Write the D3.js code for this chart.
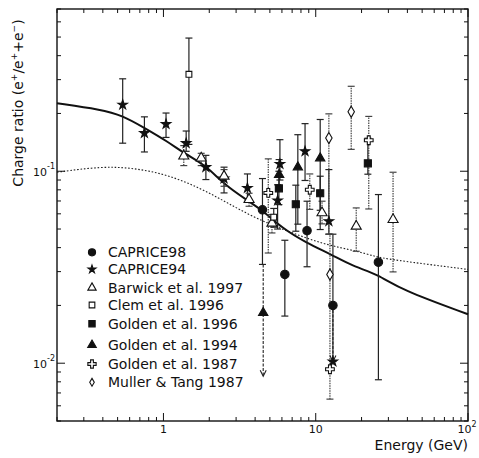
<!DOCTYPE html>
<html>
<head>
<meta charset="utf-8">
<script src="https://cdn.jsdelivr.net/npm/d3@7"></script>
<style>
  body { margin: 0; background: #fff; }
  text { font-family: "DejaVu Sans", sans-serif; fill: #111; }
</style>
</head>
<body>
<div id="chart"></div>
<script>
// Points are [energy GeV, ratio, error low, error high]

const caprice98 = [
  [4.47, 0.063, 0.0327, 0.0916],
  [6.27, 0.029, 0.0176, 0.0437],
  [8.77, 0.049, 0.0318, 0.0698],
  [12.97, 0.020, 0.0102, 0.047],
  [25.8, 0.0336, 0.0082, 0.0756],
]

const caprice94 = [
  [0.54, 0.222, 0.140, 0.303],
  [0.75, 0.158, 0.126, 0.192],
  [1.04, 0.176, 0.150, 0.201],
  [1.41, 0.140, 0.127, 0.162],
  [1.90, 0.105, 0.0905, 0.121],
  [2.50, 0.0916, 0.0771, 0.105],
  [3.56, 0.0818, 0.0698, 0.0968],
  [5.82, 0.109, 0.090, 0.146],
  [5.62, 0.0704, 0.050, 0.085],
  [8.51, 0.127, 0.0895, 0.177],
  [12.2, 0.0549, 0.047, 0.102],
  [12.97, 0.0102, null, null],
]

const barwick97 = [
  [1.36, 0.120, 0.107, 0.136],
  [1.77, 0.117, 0.107, 0.124],
  [2.50, 0.0942, 0.0835, 0.102],
  [3.65, 0.0712, 0.0657, 0.0768],
  [5.16, 0.0536, 0.0477, 0.0595],
  [11.0, 0.0607, 0.0532, 0.0698],
  [18.45, 0.0517, 0.0383, 0.0644],
  [32.2, 0.056, 0.0299, 0.0988],
]

const clem96 = [
  [1.47, 0.320, 0.138, 0.494],
  [5.3, 0.0576, 0.0511, 0.064],
]

const golden96 = [
  [5.73, 0.0815, 0.067, 0.100],
  [7.40, 0.0673, 0.0487, 0.0846],
  [10.7, 0.0768, 0.0626, 0.0942],
  [22.0, 0.110, 0.0965, 0.1486],
]

const golden94 = [
  [4.52, 0.0183, 0.0327, 0.0327],
  [5.75, 0.096, 0.080, 0.115],
  [7.63, 0.105, 0.053, 0.155],
  [10.7, 0.117, 0.0497, 0.186],
]

const golden87 = [
  [4.88, 0.0771, 0.0375, 0.116],
  [9.14, 0.0801, 0.0633, 0.0968],
  [22.3, 0.145, 0.0636, 0.193],
  [12.4, 0.0093, null, null],
]

const muller87 = [
  [12.2, 0.149, 0.047, 0.199],
  [17.1, 0.204, 0.130, 0.277],
  [12.4, 0.029, 0.0065, 0.047],
]

// Downward arrows: [energy, from, to]
const limits = [
  [4.52, 0.0327, 0.00855],
  [12.97, 0.020, 0.0102],
]

const modelSolid = [
  [0.2, 0.226], [0.388, 0.2095], [0.54, 0.195], [0.751, 0.168], [1.057, 0.1433],
  [1.41, 0.122], [1.90, 0.1074], [2.64, 0.0818], [4.42, 0.0635], [5.97, 0.0507],
  [8.69, 0.0424], [12.7, 0.0368], [17.5, 0.032], [25.8, 0.029], [36, 0.0242], [100, 0.018],
]

const modelDotted = [
  [0.2, 0.0988], [0.388, 0.106], [0.64, 0.104], [1.057, 0.0961], [1.745, 0.0818],
  [2.66, 0.068], [4.20, 0.056], [6.94, 0.0478], [11.45, 0.0415], [18.9, 0.0383],
  [24.3, 0.036], [30.5, 0.0347], [100, 0.0308],
]

const xLabels = [[1, '1', ''], [10, '10', ''], [100, '10', '2']]
const yLabels = [[0.1, '10', '-1'], [0.01, '10', '-2']]

const width = 479
const height = 458
const plotLeft = 57, plotRight = 468, plotTop = 9, plotBottom = 421

const x = d3.scaleLog().domain([0.2, 100]).range([plotLeft, plotRight])
const y = d3.scaleLog().domain([0.005, 0.7]).range([plotBottom, plotTop])

const svg = d3.select('#chart').append('svg')
  .attr('width', width)
  .attr('height', height)

// Series styles

const series = [
  { name: 'CAPRICE98', data: caprice98, type: d3.symbolCircle, size: 56, fill: '#111', legendSize: 40 },
  { name: 'CAPRICE94', data: caprice94, type: d3.symbolStar, size: 28, fill: '#111', legendSize: 20 },
  { name: 'Barwick et al. 1997', data: barwick97, type: d3.symbolTriangle, size: 44, fill: '#fff', legendSize: 30 },
  { name: 'Clem et al. 1996', data: clem96, type: d3.symbolSquare, size: 34, fill: '#fff', legendSize: 32 },
  { name: 'Golden et al. 1996', data: golden96, type: d3.symbolSquare, size: 50, fill: '#111', legendSize: 40 },
  { name: 'Golden et al. 1994', data: golden94, type: d3.symbolTriangle, size: 38, fill: '#111', legendSize: 32 },
  { name: 'Golden et al. 1987', data: golden87, type: d3.symbolCross, size: 42, fill: '#fff', legendSize: 38 },
  { name: 'Muller & Tang 1987', data: muller87, type: d3.symbolDiamond, size: 36, fill: '#fff', legendSize: 18 },
]

const dottedBars = ['Barwick et al. 1997', 'Golden et al. 1987', 'Muller & Tang 1987']

// Curves

const line = d3.line()
  .x(d => x(d[0]))
  .y(d => y(d[1]))
  .curve(d3.curveBasis)

svg.append('path')
  .attr('d', line(modelDotted))
  .attr('fill', 'none')
  .attr('stroke', '#222')
  .attr('stroke-width', 1.1)
  .attr('stroke-dasharray', '1.6,1.8')

svg.append('path')
  .attr('d', line(modelSolid))
  .attr('fill', 'none')
  .attr('stroke', '#111')
  .attr('stroke-width', 2)

// Error bars

const cap = 3.5

series.forEach(s => {
  let dotted = dottedBars.includes(s.name)
  let bars = svg.append('g')
    .attr('stroke', dotted ? '#444' : '#222')
    .attr('stroke-width', 1.2)

  s.data.filter(d => d[2] != null && d[2] !== d[3]).forEach(d => {
    let px = x(d[0])
    bars.append('line')
      .attr('x1', px).attr('x2', px)
      .attr('y1', y(d[2])).attr('y2', y(d[3]))
      .attr('stroke-dasharray', dotted ? '1.5,1' : null)
    ;[d[2], d[3]].forEach(v => {
      bars.append('line')
        .attr('x1', px - cap).attr('x2', px + cap)
        .attr('y1', y(v)).attr('y2', y(v))
    })
  })
})

// Upper limit arrows

limits.forEach(d => {
  let px = x(d[0])
  let g = svg.append('g').attr('stroke', '#222').attr('stroke-width', 1.1).attr('fill', 'none')
  g.append('line')
    .attr('x1', px).attr('x2', px)
    .attr('y1', y(d[1])).attr('y2', y(d[2]))
    .attr('stroke-dasharray', '3,1.5')
  g.append('path')
    .attr('d', `M${px - 3},${y(d[2]) - 6}L${px},${y(d[2])}L${px + 3},${y(d[2]) - 6}`)
})

// Markers

series.forEach(s => {
  svg.append('g')
    .selectAll('path')
    .data(s.data)
    .join('path')
    .attr('d', d3.symbol().type(s.type).size(s.size))
    .attr('transform', d => `translate(${x(d[0])},${y(d[1])})`)
    .attr('fill', s.fill)
    .attr('stroke', '#111')
    .attr('stroke-width', 1.1)
})

// Frame and ticks

svg.append('rect')
  .attr('x', plotLeft).attr('y', plotTop)
  .attr('width', plotRight - plotLeft).attr('height', plotBottom - plotTop)
  .attr('fill', 'none')
  .attr('stroke', '#111')
  .attr('stroke-width', 1.4)

let isMajor = v => Math.abs(Math.log10(v) - Math.round(Math.log10(v))) < 1e-6

let ticks = svg.append('g').attr('stroke', '#111').attr('stroke-width', 1)

x.ticks().forEach(v => {
  let len = isMajor(v) ? 8 : 4
  let px = x(v)
  ticks.append('line').attr('x1', px).attr('x2', px).attr('y1', plotBottom).attr('y2', plotBottom - len)
  ticks.append('line').attr('x1', px).attr('x2', px).attr('y1', plotTop).attr('y2', plotTop + len)
})

y.ticks().forEach(v => {
  let len = isMajor(v) ? 8 : 4
  let py = y(v)
  ticks.append('line').attr('x1', plotLeft).attr('x2', plotLeft + len).attr('y1', py).attr('y2', py)
  ticks.append('line').attr('x1', plotRight).attr('x2', plotRight - len).attr('y1', py).attr('y2', py)
})

// Tick labels

xLabels.forEach(([v, base, exp]) => {
  let t = svg.append('text')
    .attr('x', x(v) - (exp ? 1 : 0))
    .attr('y', 433)
    .attr('text-anchor', 'middle')
    .attr('font-size', 11)
    .text(base)
  if (exp) t.append('tspan').attr('dy', -6).attr('font-size', 8).text(exp)
})

yLabels.forEach(([v, base, exp]) => {
  svg.append('text')
    .attr('x', plotLeft - 2)
    .attr('y', y(v) + 5)
    .attr('text-anchor', 'end')
    .attr('font-size', 11)
    .text(base)
    .append('tspan').attr('dy', -7).attr('font-size', 8).text(exp)
})

// Axis titles

svg.append('text')
  .attr('x', plotRight)
  .attr('y', 450)
  .attr('text-anchor', 'end')
  .attr('font-size', 14)
  .text('Energy (GeV)')

let yTitle = svg.append('text')
  .attr('transform', 'translate(23,103) rotate(-90)')
  .attr('text-anchor', 'middle')
  .attr('font-size', 14)

yTitle.append('tspan').text('Charge ratio (e')
yTitle.append('tspan').attr('dy', -6).attr('font-size', 9).text('+')
yTitle.append('tspan').attr('dy', 6).text('/e')
yTitle.append('tspan').attr('dy', -6).attr('font-size', 9).text('+')
yTitle.append('tspan').attr('dy', 6).text('+e')
yTitle.append('tspan').attr('dy', -6).attr('font-size', 9).text('\u2212')
yTitle.append('tspan').attr('dy', 6).text(')')

// Legend

const legendY = [252.3, 269.3, 287.7, 305, 323.7, 345, 364, 382.3]

let legend = svg.append('g')

series.forEach((s, i) => {
  legend.append('path')
    .attr('d', d3.symbol().type(s.type).size(s.legendSize))
    .attr('transform', `translate(92,${legendY[i]})`)
    .attr('fill', s.fill)
    .attr('stroke', '#111')
    .attr('stroke-width', 1.1)
  legend.append('text')
    .attr('x', 108)
    .attr('y', legendY[i] + 5)
    .attr('font-size', 14)
    .text(s.name)
})
</script>
</body>
</html>
